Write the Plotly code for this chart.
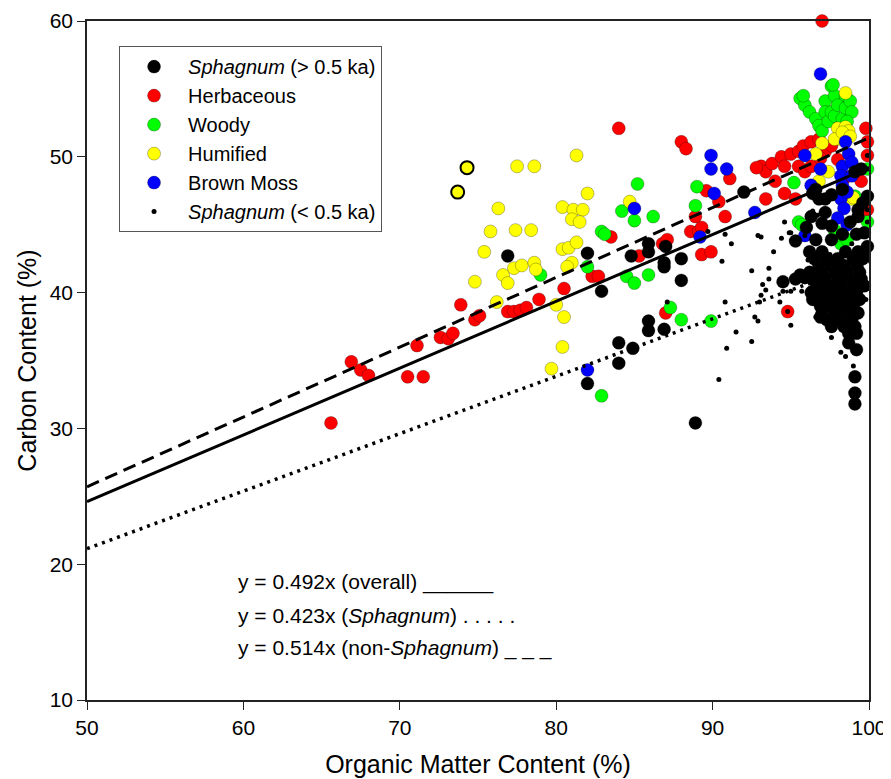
import plotly.graph_objects as go

# ---------------- data ----------------
herb_x = [65.6, 66.9, 67.5, 68.0, 70.5, 71.1, 71.5, 72.6, 73.1, 73.4, 73.9, 74.8, 75.1, 76.9, 77.3, 77.7, 78.1,
          78.9, 80.5, 82.3, 82.7, 83.5, 84.0, 85.3, 86.8, 87.1, 87.0, 88.0, 88.3, 88.6, 89.1, 89.3, 88.9, 89.3,
          89.9, 89.6, 90.4, 90.8, 91.1, 93.1, 93.4, 93.8, 94.4, 94.6, 95.0, 95.5, 95.5, 95.8, 95.9, 96.3, 96.3,
          96.8, 97.2, 97.6, 93.4, 94.6, 95.3, 94.8, 97.0, 99.8, 99.9, 99.9, 99.9, 98.0, 98.5, 92.8, 94.0, 96.9,
          99.5]
herb_y = [30.4, 34.9, 34.3, 33.9, 33.8, 36.1, 33.8, 36.7, 36.6, 37.0, 39.1, 38.0, 38.3, 38.6, 38.6, 38.7, 38.9,
          39.5, 40.3, 41.2, 41.2, 44.1, 52.1, 42.7, 43.6, 43.9, 38.5, 51.1, 50.6, 44.5, 44.5, 44.8, 45.6, 42.8,
          43.0, 47.5, 46.7, 45.6, 48.4, 49.3, 48.9, 49.5, 50.0, 49.3, 50.2, 50.4, 49.3, 50.8, 48.9, 51.1, 49.3,
          51.3, 50.4, 50.8, 46.9, 47.3, 46.9, 38.6, 60.0, 52.1, 51.1, 50.1, 46.1, 49.8, 48.5, 49.2, 48.2, 49.9,
          48.2]

woody_x = [79.0, 82.0, 82.9, 83.1, 82.9, 84.2, 84.5, 85.0, 85.0, 85.2, 85.9, 86.2, 87.3, 88.0, 89.0, 88.9, 89.9,
           95.2, 95.5, 95.7, 95.6, 95.9, 96.2, 96.6, 96.8, 97.0, 97.2, 97.2, 97.4, 97.6, 97.6, 97.8, 97.8, 98.0,
           98.3, 98.5, 98.5, 98.8, 98.9, 98.6, 97.7, 95.8, 99.9, 99.9, 99.1, 97.8, 98.2, 97.9, 98.6]
woody_y = [41.3, 41.9, 44.5, 44.3, 32.4, 46.0, 41.2, 45.3, 40.7, 48.0, 41.3, 45.6, 38.9, 38.0, 47.8, 46.4, 37.9,
           48.1, 45.2, 45.0, 54.3, 53.8, 53.3, 52.8, 52.3, 51.9, 54.1, 53.3, 52.6, 55.2, 53.3, 54.5, 53.0, 53.8,
           52.8, 54.5, 53.6, 54.1, 53.3, 52.6, 55.3, 54.5, 49.1, 45.2, 47.1, 44.6, 43.6, 44.2, 43.9]

humi_x = [77.5, 78.6, 81.3, 76.3, 75.8, 77.4, 78.4, 75.4, 74.8, 76.6, 76.9, 77.3, 77.8, 78.6, 78.7, 76.2, 80.0,
          80.5, 80.4, 79.7, 82.0, 80.4, 81.1, 81.7, 81.0, 81.5, 80.4, 80.8, 81.3, 81.0, 80.7, 84.7, 98.5, 98.0,
          98.5, 98.7, 98.2, 97.8, 97.0, 96.6, 97.4, 96.8, 98.9, 99.0, 98.3, 98.8]
humi_y = [49.3, 49.3, 50.1, 46.2, 44.5, 44.6, 44.6, 43.0, 40.8, 41.3, 40.7, 41.8, 42.0, 42.2, 41.7, 39.3, 39.1,
          38.2, 36.0, 34.4, 47.3, 46.3, 46.1, 46.1, 45.4, 45.2, 43.2, 43.3, 43.7, 42.2, 41.9, 46.7, 54.7, 52.1,
          52.2, 51.9, 51.3, 51.3, 51.0, 50.2, 48.9, 48.2, 46.9, 47.0, 51.8, 51.5]
humi_out_x = [74.3, 73.7]
humi_out_y = [49.2, 47.4]

moss_x = [96.9, 89.9, 89.9, 90.9, 90.1, 85.0, 89.2, 92.7, 82.0, 95.9, 96.9, 98.5, 98.7, 98.3, 98.9, 98.2, 98.9,
          96.3, 98.3, 98.2, 98.6, 98.4, 95.9, 98.0, 98.6]
moss_y = [56.1, 50.1, 49.1, 49.1, 47.3, 46.2, 44.1, 45.9, 34.3, 50.1, 49.1, 51.1, 50.2, 49.3, 49.6, 48.6, 48.6,
          47.9, 47.9, 46.9, 47.4, 46.2, 44.2, 45.5, 45.0]

sph_old_x = [76.9, 82.0, 82.9, 82.0, 84.0, 84.9, 84.0, 84.8, 85.9, 85.9, 87.0, 86.9, 86.9, 88.0, 88.0, 85.9, 85.9,
             86.9, 88.9, 92.0, 94.5, 95.3, 95.9, 95.3,
             96.4, 96.6, 96.8, 97.2, 97.6, 98.3, 99.1, 99.5, 99.9, 99.3, 99.7, 97.2, 97.6, 96.6, 97.6, 98.3, 99.2,
             99.3, 99.6, 96.3, 99.9, 96.0, 97.0, 98.8,
             96.2, 97.0, 98.5, 99.3, 99.7, 96.5, 97.3, 98.0, 99.0, 99.6, 96.8, 97.6, 98.4, 99.2,
             96.2, 97.0, 97.8, 98.6, 99.4, 96.4, 97.2, 98.0, 98.8, 99.5, 96.8, 97.5, 98.2, 99.0, 99.7,
             96.3, 97.0, 97.7, 98.4, 99.2, 96.6, 97.3, 98.0, 98.7, 99.4, 96.9, 97.6, 98.3, 99.0,
             97.0, 97.8, 98.6, 99.3, 97.3, 98.1, 98.9, 97.6, 98.4, 99.1, 98.7, 99.2, 98.7, 99.2,
             99.1, 99.1, 99.1, 99.0, 96.4, 96.4, 96.9, 95.6]
sph_old_y = [42.7, 42.9, 40.1, 33.3, 36.3, 35.9, 34.8, 42.7, 43.6, 43.0, 43.4, 42.2, 41.9, 42.5, 40.9, 37.9, 37.2,
             37.3, 30.4, 47.4, 40.8, 41.0, 41.1, 43.8,
             47.3, 47.6, 46.9, 46.9, 47.2, 47.6, 48.9, 49.1, 47.1, 46.1, 44.4, 45.9, 44.9, 43.9, 43.9, 44.3, 44.3,
             45.6, 46.6, 45.6, 43.4, 44.8, 45.1, 45.2,
             43.0, 43.0, 43.0, 43.0, 43.0, 42.5, 42.5, 42.5, 42.5, 42.5, 42.0, 42.0, 42.0, 42.0,
             41.5, 41.5, 41.5, 41.5, 41.5, 41.0, 41.0, 41.0, 41.0, 41.0, 40.5, 40.5, 40.5, 40.5, 40.5,
             40.0, 40.0, 40.0, 40.0, 40.0, 39.5, 39.5, 39.5, 39.5, 39.5, 39.0, 39.0, 39.0, 39.0,
             38.5, 38.5, 38.5, 38.5, 38.0, 38.0, 38.0, 37.5, 37.5, 37.5, 37.0, 37.0, 36.3, 35.8,
             33.8, 32.6, 31.8, 37.4, 40.1, 39.5, 38.2, 41.3]

sph_new_x = [93.1, 94.4, 94.9, 91.2, 90.8, 90.6, 93.9, 92.5, 93.6, 93.6, 93.2, 93.4, 93.1, 93.0, 94.3, 95.0, 95.7,
             96.4, 96.8, 90.8, 92.7, 92.9, 91.5, 92.5, 90.9, 90.4, 95.0, 96.6, 97.6, 98.2, 98.5, 99.0, 99.2, 99.8,
             87.1, 92.9, 94.5, 94.6, 95.0, 96.4, 96.7, 94.8, 99.9, 99.9, 99.9, 99.9, 95.9, 97.5, 98.2, 96.1,
             97.9, 98.9, 99.5, 89.7]
sph_new_y = [44.1, 44.0, 44.4, 43.6, 44.3, 42.3, 43.0, 41.6, 41.8, 41.0, 40.6, 40.2, 39.8, 39.3, 39.3, 40.1, 40.1,
             40.2, 39.5, 39.3, 38.2, 37.9, 37.1, 36.4, 35.9, 33.6, 37.6, 38.2, 36.7, 35.6, 35.3, 34.6, 35.9, 39.5,
             39.3, 44.2, 40.1, 45.2, 44.4, 46.0, 45.7, 38.6, 50.1, 49.1, 46.1, 45.2, 44.2, 42.8, 41.2, 42.4,
             39.8, 43.6, 41.9, 44.5]

fit_x = [50, 100]
slope_overall = 0.492
slope_sphagnum = 0.423
slope_non_sphagnum = 0.514

x_ticks = [50, 60, 70, 80, 90, 100]
y_ticks = [10, 20, 30, 40, 50, 60]

# ---------------- figure ----------------
FONT = "Liberation Sans, Arial, sans-serif"

fig = go.Figure()


def add_points(x, y, color, name, rank, size=13, line=None, show=True):
    m = dict(size=size, color=color)
    m["line"] = line if line is not None else dict(color="rgba(0,0,0,0.45)", width=0.6)
    fig.add_trace(go.Scatter(x=x, y=y, mode="markers", marker=m, name=name,
                             legendrank=rank, showlegend=show, cliponaxis=False, hoverinfo="skip"))


add_points(herb_x, herb_y, "#ff0000", "Herbaceous", 2)
add_points(woody_x, woody_y, "#00ff00", "Woody", 3)
add_points(humi_x, humi_y, "#ffff00", "Humified", 4)
add_points(humi_out_x, humi_out_y, "#ffff00", "Humified", 4, line=dict(color="black", width=2), show=False)
add_points(moss_x, moss_y, "#0000ff", "Brown Moss", 5)
add_points(sph_old_x, sph_old_y, "#000000", "<i>Sphagnum</i> (&gt; 0.5 ka)", 1)
add_points(sph_new_x, sph_new_y, "#000000", "<i>Sphagnum</i> (&lt; 0.5 ka)", 6, size=5,
           line=dict(width=0))

for slope, dash, w in [(slope_overall, "solid", 3),
                       (slope_non_sphagnum, "13px,7px", 3),
                       (slope_sphagnum, "3px,5px", 3.5)]:
    fig.add_trace(go.Scatter(x=fit_x, y=[slope * v for v in fit_x], mode="lines",
                             line=dict(color="black", width=w, dash=dash),
                             showlegend=False, hoverinfo="skip"))

eq_lines = ["y = 0.492x (overall) ______",
            "y = 0.423x (<i>Sphagnum</i>) . . . . .",
            "y = 0.514x (non-<i>Sphagnum</i>) _ _ _"]
eq_y = [18.7, 16.2, 13.8]
for t, yy in zip(eq_lines, eq_y):
    fig.add_annotation(x=59.5, y=yy, xref="x", yref="y", text=t, showarrow=False,
                       xanchor="left", yanchor="middle", font=dict(size=21, color="black", family=FONT))

axis_common = dict(showline=True, linecolor="#222", linewidth=1.5, mirror=True, ticks="outside",
                   ticklen=8, tickwidth=1.2, tickcolor="#222", showgrid=False, zeroline=False,
                   automargin=False, tickfont=dict(size=21, color="black", family=FONT))
fig.update_xaxes(range=[50, 100], tickvals=x_ticks,
                 title=dict(text="Organic Matter Content (%)", font=dict(size=25, color="black", family=FONT),
                            standoff=18), **axis_common)
fig.update_yaxes(range=[10, 60], tickvals=y_ticks,
                 title=dict(text="Carbon Content (%)", font=dict(size=25, color="black", family=FONT),
                            standoff=6), **axis_common)

# the page body has an 8 px margin, so the figure is sized and offset to fit the 891x779 window
fig.update_layout(
    width=883, height=771,
    margin=dict(l=79, r=22, t=13, b=79),
    plot_bgcolor="white", paper_bgcolor="white",
    font=dict(family=FONT, color="black"),
    legend=dict(x=0.041, y=0.963, xanchor="left", yanchor="top", bgcolor="white",
                bordercolor="#555", borderwidth=1, font=dict(size=20, family=FONT, color="black"),
                traceorder="normal", itemwidth=58, tracegroupgap=0),
)

fig.write_html("out.html")
